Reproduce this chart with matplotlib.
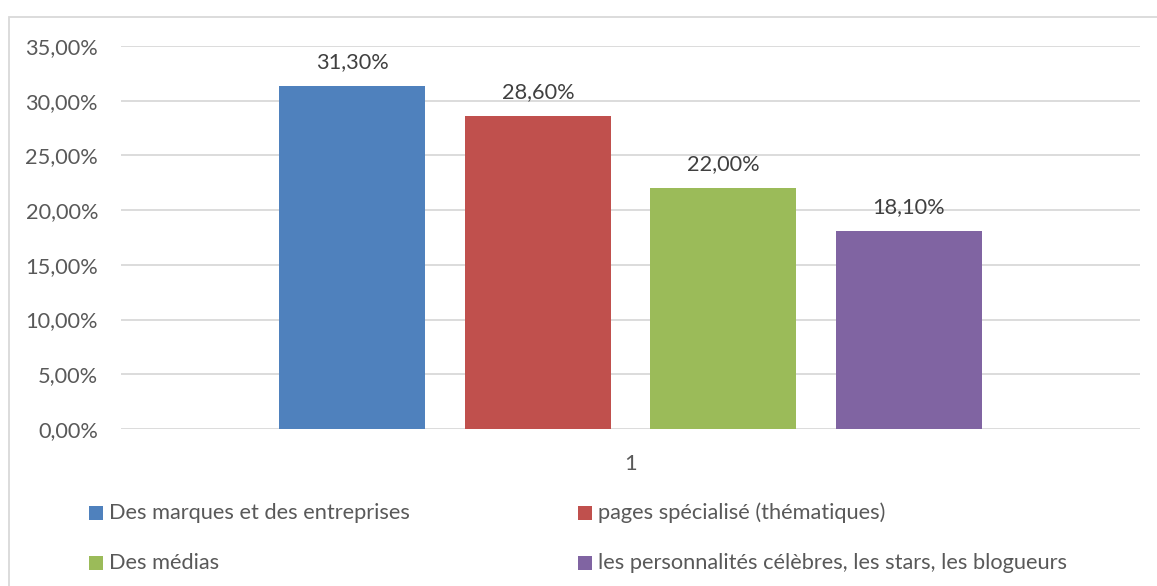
import matplotlib
matplotlib.use("Agg")
import matplotlib.pyplot as plt
from matplotlib.patches import Rectangle
from matplotlib.ticker import FuncFormatter

# Data
categories = ["Des marques et des entreprises",
              "pages spécialisé (thématiques)",
              "Des médias",
              "les personnalités célèbres, les stars, les blogueurs"]
values = [31.30, 28.60, 22.00, 18.10]
colors = ["#4F81BD", "#C0504D", "#9BBB59", "#8064A2"]
x_label = "1"
y_ticks = [0, 5, 10, 15, 20, 25, 30, 35]

W, H = 1157, 586
plt.rcParams['font.family'] = ['Lato', 'DejaVu Sans']
text_color = "#595959"
fs = 15.7

fig = plt.figure(figsize=(W / 100, H / 100), dpi=100)
fig.patch.set_facecolor("white")

# chart area border
fig.add_artist(Rectangle((9 / W, -0.1), 1.2, 1 - 17 / H + 0.1,
                         transform=fig.transFigure, fill=False,
                         edgecolor="#D9D9D9", linewidth=1.3))

ax = fig.add_axes([121 / W, 1 - 429 / H, (1140 - 121) / W, (429 - 46) / H])
ax.set_xlim(-0.5, 0.5)
ax.set_ylim(0, 35)

spacing = 0.1819
bar_w = 0.1433
offsets = [(i - 1.5) * spacing for i in range(len(values))]
for off, v, c, name in zip(offsets, values, colors, categories):
    ax.bar(off, v, width=bar_w, color=c, label=name, zorder=3)
    ax.text(off, v + 1.3, f"{v:.2f}%".replace(".", ","), ha="center",
            va="bottom", fontsize=fs, color="#404040")

ax.set_yticks(y_ticks)
ax.yaxis.set_major_formatter(FuncFormatter(lambda v, p: f"{v:.2f}%".replace(".", ",")))
ax.set_xticks([0])
ax.set_xticklabels([x_label])
ax.tick_params(axis="both", length=0, labelsize=fs, labelcolor=text_color)
ax.tick_params(axis="y", pad=16.5)
ax.tick_params(axis="x", pad=18)
ax.grid(axis="y", color="#D9D9D9", linewidth=1.3, zorder=0)
for s in ax.spines.values():
    s.set_visible(False)

# legend laid out in two columns below the plot
leg_pos = [(89, 513), (578, 513), (89, 563), (578, 563)]
for (px, py), c, name in zip(leg_pos, colors, categories):
    fig.add_artist(Rectangle((px / W, 1 - (py + 7) / H), 14 / W, 14 / H,
                             transform=fig.transFigure, facecolor=c,
                             edgecolor="none"))
    fig.text((px + 20) / W, 1 - py / H, name, ha="left", va="center",
             fontsize=fs, color=text_color)

fig.savefig("out.png", dpi=100)
